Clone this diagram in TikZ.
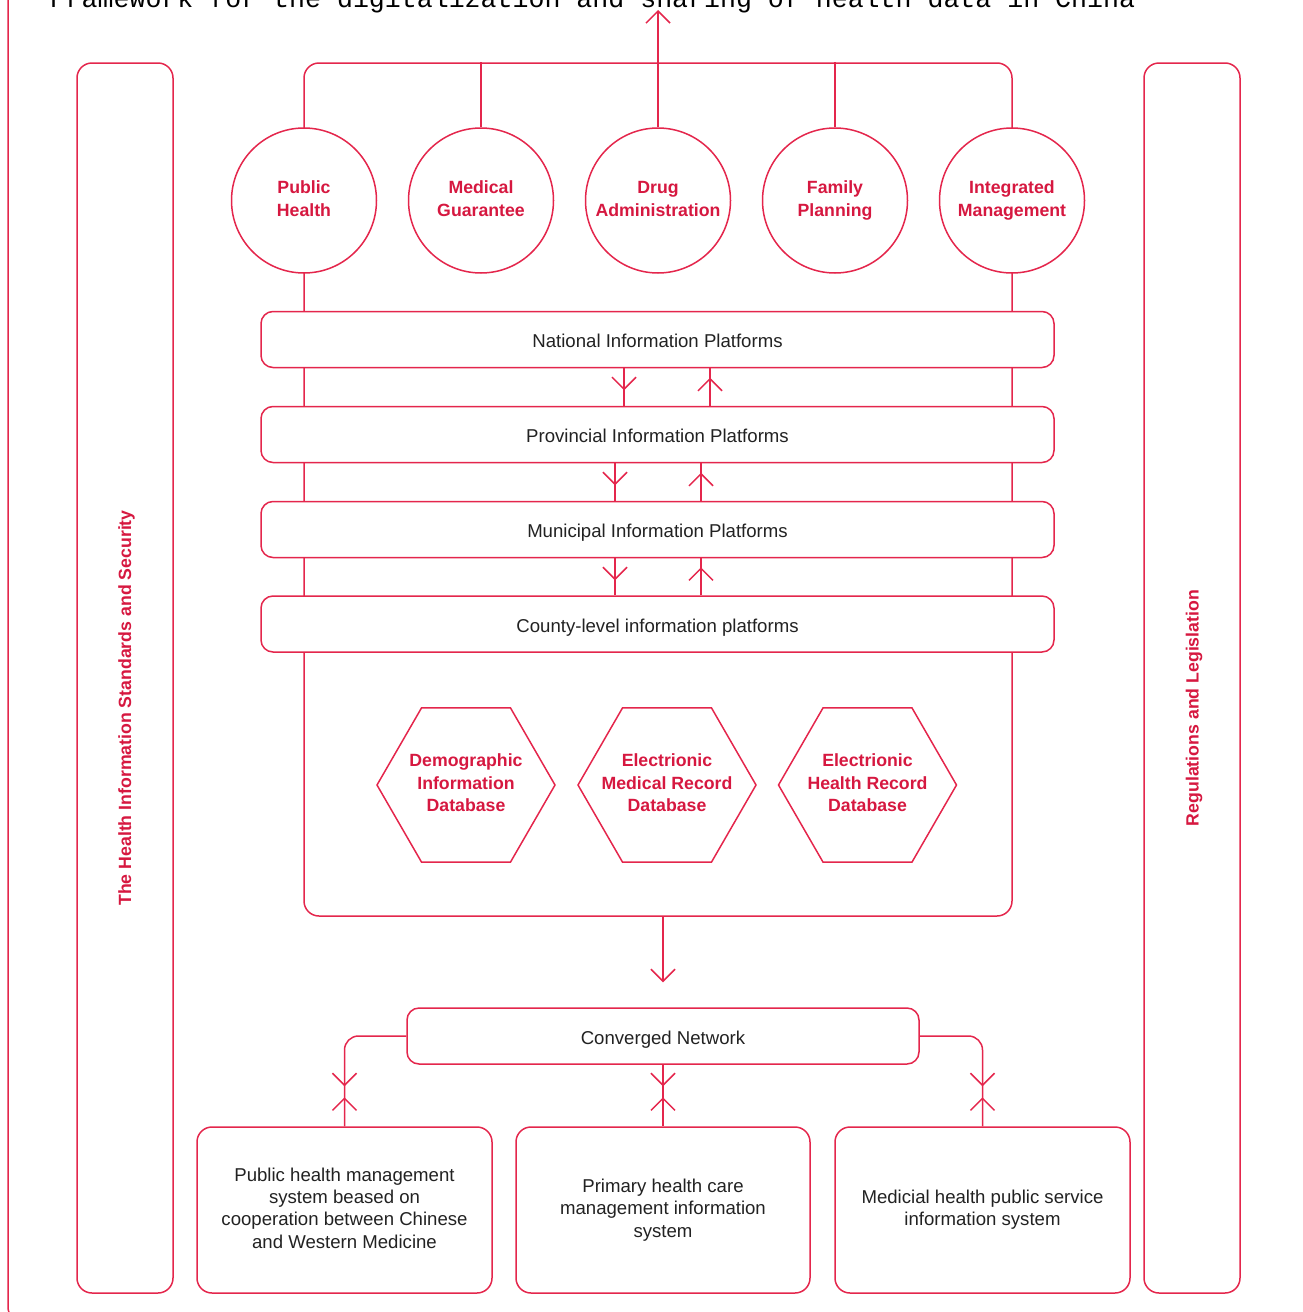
\documentclass[tikz,border=0pt]{standalone}
\usepackage{fontspec}
\setmainfont{Liberation Sans}
\newfontfamily\titlefont{Liberation Mono}
\usetikzlibrary{arrows.meta,shapes.geometric,decorations.markings}
\definecolor{hred}{RGB}{228,38,76}
\definecolor{hredtext}{RGB}{214,24,64}
\definecolor{hdark}{RGB}{34,34,34}
\newcommand{\linestrut}{\rule[-4pt]{0pt}{24pt}}
\tikzset{
  redline/.style={draw=hred,line width=1.5pt},
  strutted/.style={execute at begin node=\linestrut,execute at end node=\linestrut},
  sidebar/.style={rectangle,redline,rounded corners=15pt,minimum width=96pt,minimum height=1230pt},
  sidelabel/.style={text=hredtext,font=\bfseries\fontsize{17.7}{22}\selectfont,rotate=90},
  areacircle/.style={circle,redline,fill=white,minimum size=145pt,inner sep=0pt,text=hredtext,align=center,strutted,font=\bfseries\fontsize{17.7}{23}\selectfont},
  platform/.style={rectangle,redline,fill=white,rounded corners=12pt,minimum width=793pt,minimum height=56pt,inner sep=0pt,text=hdark,strutted,font=\fontsize{18.6}{23}\selectfont},
  database/.style={regular polygon,regular polygon sides=6,redline,minimum size=178pt,inner sep=0pt},
  dbtext/.style={inner sep=0pt,text=hredtext,align=center,strutted,font=\bfseries\fontsize{17.7}{22.5}\selectfont},
  system/.style={rectangle,redline,rounded corners=15pt,minimum width=295pt,minimum height=166pt,inner sep=0pt,text=hdark,align=center,strutted,font=\fontsize{18.6}{22.4}\selectfont},
  downmark/.style={redline,postaction={decorate},decoration={markings,mark=at position #1 with {\arrow{>}}}},
  twoway/.style={redline,postaction={decorate},decoration={markings,mark=at position -40pt with {\arrow{>}},mark=at position -29pt with {\arrowreversed{>}}}}
}
\begin{document}
\begin{tikzpicture}[x=1pt,y=-1pt,>={Straight Barb[length=12pt,width=24pt]}]
	\useasboundingbox (0,0) rectangle (1303,1312);
	\clip (0,0) rectangle (1303,1312);
	\draw[redline,rounded corners=15pt] (8,-40) rectangle (1420,1322);
	\node [anchor=base,font=\titlefont\fontsize{26.6}{30}\selectfont,text=black] (title) at (592.5,7) {Framework for the digitalization and sharing of health data in China};

	\node [sidebar] (stdbar) at (125,678) {};
	\node [sidelabel] (stdlabel) at (126.5,708) {The Health Information Standards and Security};
	\node [sidebar] (lawbar) at (1192,678) {};
	\node [sidelabel] (lawlabel) at (1194,708) {Regulations and Legislation};

	\node [rectangle,redline,rounded corners=15pt,minimum width=708pt,minimum height=853pt] (core) at (658,489.5) {};
	\coordinate (topout) at (658,10);

	\node [areacircle] (pubh) at (304,200.5) {Public\\Health};
	\node [areacircle] (medg) at (481,200.5) {Medical\\Guarantee};
	\node [areacircle] (drug) at (658,200.5) {Drug\\Administration};
	\node [areacircle] (famp) at (835,200.5) {Family\\Planning};
	\node [areacircle] (intm) at (1012,200.5) {Integrated\\Management};
		\draw [redline] (medg.north) -- (medg.north |- core.north);
		\draw [redline] (famp.north) -- (famp.north |- core.north);
		\draw [redline,->] (drug.north) -- (topout);

	\node [platform] (natp) at (657.5,339.5) {National Information Platforms};
	\node [platform] (prov) at (657.5,434.5) {Provincial Information Platforms};
	\node [platform] (muni) at (657.5,529.5) {Municipal Information Platforms};
	\node [platform] (cnty) at (657.5,624) {County-level information platforms};
		\draw [downmark=22pt] ([xshift=-33.5pt]natp.south) -- ([xshift=-33.5pt]prov.north);
		\draw [downmark=28pt] ([xshift=52.5pt]prov.north) -- ([xshift=52.5pt]natp.south);
		\draw [downmark=22pt] ([xshift=-42.5pt]prov.south) -- ([xshift=-42.5pt]muni.north);
		\draw [downmark=28pt] ([xshift=43.5pt]muni.north) -- ([xshift=43.5pt]prov.south);
		\draw [downmark=22pt] ([xshift=-42.5pt]muni.south) -- ([xshift=-42.5pt]cnty.north);
		\draw [downmark=28pt] ([xshift=43.5pt]cnty.north) -- ([xshift=43.5pt]muni.south);

	\node [database] (demo) at (466,785) {};
	\node [database] (emrd) at (667,785) {};
	\node [database] (ehrd) at (867.5,785) {};
		\node [dbtext] (demotext) at (demo.center) {Demographic\\Information\\Database};
		\node [dbtext] (emrdtext) at (emrd.center) {Electrionic\\Medical Record\\Database};
		\node [dbtext] (ehrdtext) at (ehrd.center) {Electrionic\\Health Record\\Database};

	\node [platform,minimum width=512pt] (conv) at (663,1036) {Converged Network};
	\coordinate (convin) at ([yshift=25pt]conv.north);
		\draw [redline,->] (core.south -| conv.north) -- (convin);

	\node [system] (sys1) at (344.5,1210) {Public health management\\system beased on\\cooperation between Chinese\\and Western Medicine};
	\node [system,minimum width=294pt] (sys2) at (663,1210) {Primary health care\\management information\\system};
	\node [system] (sys3) at (982.5,1210) {Medicial health public service\\information system};
		\draw [twoway,rounded corners=14pt] (conv.west) -| (sys1.north);
		\draw [twoway] (conv.south) -- (sys2.north);
		\draw [twoway,rounded corners=14pt] (conv.east) -| (sys3.north);
\end{tikzpicture}
\end{document}
